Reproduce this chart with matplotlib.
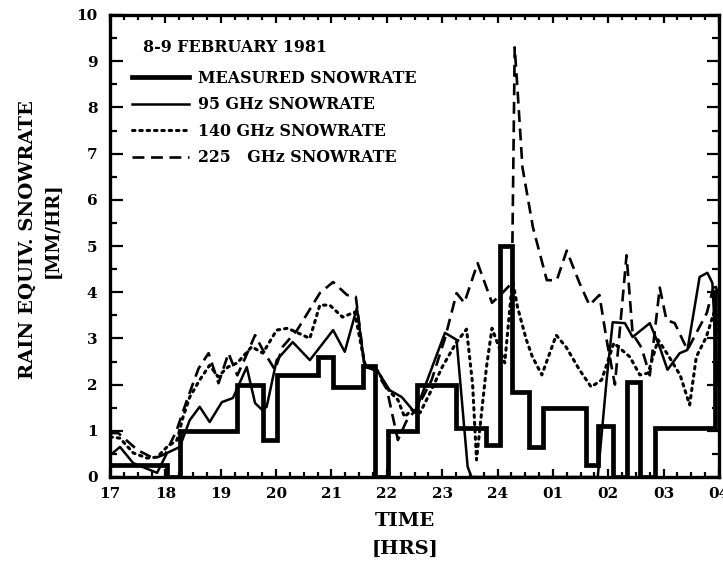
import matplotlib

matplotlib.use("Agg")

import matplotlib.pyplot as plt
from matplotlib.ticker import MultipleLocator

# measured snowrate (step trace): time in hours (24+ = after midnight), value in mm/hr
MEAS_T = [17.0, 18.03, 18.26, 19.29, 19.76, 20.01, 20.76, 21.03, 21.57, 21.78, 22.02,
          22.54, 23.25, 23.8, 24.04, 24.27, 24.56, 24.82, 25.59, 25.81, 26.08, 26.33,
          26.57, 26.84, 27.92, 28.0]
MEAS_V = [0.25, 0.0, 1.0, 2.0, 0.8, 2.2, 2.6, 1.95, 2.4, 0.0, 1.0,
          2.0, 1.05, 0.7, 5.0, 1.85, 0.65, 1.5, 0.25, 1.1, 0.0, 2.05,
          0.0, 1.05, 4.0, 4.0]

GHZ95_T = [17.0, 17.05, 17.18, 17.42, 17.85, 18.03, 18.26, 18.44, 18.62, 18.80, 19.02,
           19.22, 19.47, 19.62, 19.75, 19.83, 20.01, 20.30, 20.61, 21.03, 21.24, 21.46,
           21.60, 21.82, 22.05, 22.27, 22.51, 23.05, 23.26, 23.46, 23.53, 25.81, 25.97,
           26.08, 26.30, 26.44, 26.75, 26.93, 27.07, 27.29, 27.43, 27.65, 27.79, 27.88,
           27.96, 28.0]
GHZ95_V = [0.5, 0.52, 0.65, 0.30, 0.09, 0.52, 0.65, 1.23, 1.52, 1.19, 1.62,
           1.71, 2.38, 1.60, 1.45, 1.52, 2.53, 2.92, 2.53, 3.18, 2.71, 3.66,
           2.38, 2.32, 1.88, 1.73, 1.39, 3.12, 2.97, 0.22, 0.0, 0.0, 2.10,
           3.35, 3.33, 3.03, 3.33, 2.81, 2.32, 2.68, 2.75, 4.33, 4.42, 4.20,
           2.38, 2.0]

GHZ140_T = [17.0, 17.18, 17.42, 17.67, 17.85, 18.03, 18.21, 18.32, 18.44, 18.62, 18.80,
            18.95, 19.13, 19.3, 19.56, 19.76, 20.01, 20.21, 20.61, 20.79, 20.97, 21.2,
            21.42, 21.6, 21.82, 22.05, 22.2, 22.32, 22.45, 22.6, 22.78, 23.0, 23.25,
            23.44, 23.55, 23.62, 23.8, 23.9, 24.13, 24.27, 24.36, 24.52, 24.63, 24.8,
            25.06, 25.24, 25.48, 25.69, 25.88, 26.1, 26.39, 26.57, 26.72, 26.9, 27.1,
            27.3, 27.47, 27.59, 27.77, 27.92, 28.0]
GHZ140_V = [0.87, 0.84, 0.52, 0.41, 0.43, 0.65, 0.80, 1.30, 1.73, 2.10, 2.42,
            2.17, 2.38, 2.47, 2.82, 2.68, 3.18, 3.22, 3.0, 3.72, 3.72, 3.46,
            3.57, 2.45, 2.32, 1.85, 1.67, 1.30, 1.45, 1.39, 1.82, 2.38, 2.90,
            3.20, 2.0, 0.37, 2.38, 3.22, 2.47, 4.26, 3.68, 2.97, 2.60, 2.21,
            3.07, 2.81, 2.32, 1.95, 2.10, 2.9, 2.60, 2.21, 2.25, 2.97, 2.6,
            2.2, 1.56, 2.60, 3.03, 3.60, 3.1]

GHZ225_T = [17.0, 17.15, 17.5, 17.8, 18.0, 18.2, 18.4, 18.6, 18.78, 18.96, 19.14,
            19.3, 19.45, 19.62, 19.76, 19.98, 20.12, 20.38, 20.79, 21.03, 21.28, 21.44,
            21.6, 21.8, 22.0, 22.2, 22.35, 22.55, 22.81, 23.05, 23.26, 23.4, 23.64,
            23.9, 24.1, 24.26, 24.31, 24.36, 24.45, 24.64, 24.89, 25.07, 25.25, 25.48,
            25.66, 25.84, 25.97, 26.12, 26.33, 26.44, 26.6, 26.75, 26.93, 27.05, 27.2,
            27.43, 27.78, 27.92, 28.0]
GHZ225_V = [0.95, 0.95, 0.58, 0.40, 0.5, 1.0, 1.7, 2.35, 2.68, 2.03, 2.68,
            2.2, 2.6, 3.07, 2.75, 2.32, 2.82, 3.18, 3.98, 4.22, 3.94, 3.9,
            2.4, 2.3, 1.9, 0.8, 1.2, 1.5, 2.1, 3.0, 3.98, 3.77, 4.63,
            3.77, 4.0, 4.2, 9.3, 8.4, 6.7, 5.4, 4.26, 4.26, 4.9, 4.2,
            3.72, 3.94, 2.97, 2.0, 4.8, 3.1, 2.8, 2.2, 4.1, 3.4, 3.33,
            2.75, 3.55, 4.2, 3.9]

X_TICKS = list(range(17, 29))
X_LABELS = ["17", "18", "19", "20", "21", "22", "23", "24", "01", "02", "03", "04"]
Y_TICKS = list(range(0, 11))

SERIF = "DejaVu Serif"


def main() -> None:
    fig = plt.figure(figsize=(7.23, 5.81), dpi=100)
    ax = fig.add_axes((110 / 723, 1 - 477 / 581, 609 / 723, 462 / 581))

    ax.plot(MEAS_T, MEAS_V, drawstyle="steps-post", color="black", linewidth=3.4,
            solid_joinstyle="miter", label="MEASURED SNOWRATE")
    ax.plot(GHZ95_T, GHZ95_V, color="black", linewidth=1.8, label="95 GHz SNOWRATE")
    ax.plot(GHZ140_T, GHZ140_V, color="black", linewidth=2.2, linestyle=(0, (0.8, 1.6)),
            dash_capstyle="round", label="140 GHz SNOWRATE")
    ax.plot(GHZ225_T, GHZ225_V, color="black", linewidth=1.9, linestyle=(0, (4.5, 2.5)),
            label="225   GHz SNOWRATE")

    ax.set_xlim(17, 28)
    ax.set_ylim(0, 10)
    ax.set_xticks(X_TICKS, X_LABELS)
    ax.set_yticks(Y_TICKS)
    ax.xaxis.set_minor_locator(MultipleLocator(0.25))
    ax.yaxis.set_minor_locator(MultipleLocator(0.5))
    ax.tick_params(which="both", direction="in", top=True, right=True, width=1.6)
    ax.tick_params(which="major", axis="x", length=6, pad=7)
    ax.tick_params(which="minor", axis="x", length=3.5)
    ax.tick_params(which="major", axis="y", length=9, pad=9)
    ax.tick_params(which="minor", axis="y", length=5)
    for label in ax.get_xticklabels() + ax.get_yticklabels():
        label.set_fontfamily(SERIF)
        label.set_fontweight("bold")
        label.set_fontsize(11)
    for spine in ax.spines.values():
        spine.set_linewidth(2.4)

    leg = ax.legend(
        loc="upper left",
        bbox_to_anchor=(0.036, 0.948),
        borderaxespad=0,
        borderpad=0,
        frameon=False,
        handlelength=3.6,
        handletextpad=0.55,
        labelspacing=0.6,
        title="  8-9 FEBRUARY 1981",
        alignment="left",
        prop={"family": SERIF, "weight": "bold", "size": 11.4},
        title_fontproperties={"family": SERIF, "weight": "bold", "size": 11.4},
    )
    leg._legend_box.sep = 10

    fig.text(28 / 723, 1 - 240 / 581, "RAIN EQUIV. SNOWRATE", rotation=90, ha="center",
             va="center", family=SERIF, weight="bold", fontsize=14)
    fig.text(53 / 723, 1 - 230 / 581, "[MM/HR]", rotation=90, ha="center", va="center",
             family=SERIF, weight="bold", fontsize=13)
    fig.text(405 / 723, 1 - 521 / 581, "TIME", ha="center", va="center",
             family=SERIF, weight="bold", fontsize=14)
    fig.text(405 / 723, 1 - 549 / 581, "[HRS]", ha="center", va="center",
             family=SERIF, weight="bold", fontsize=14)

    fig.savefig("out.png", dpi=100, facecolor="white")
    plt.close(fig)


if __name__ == "__main__":
    main()
